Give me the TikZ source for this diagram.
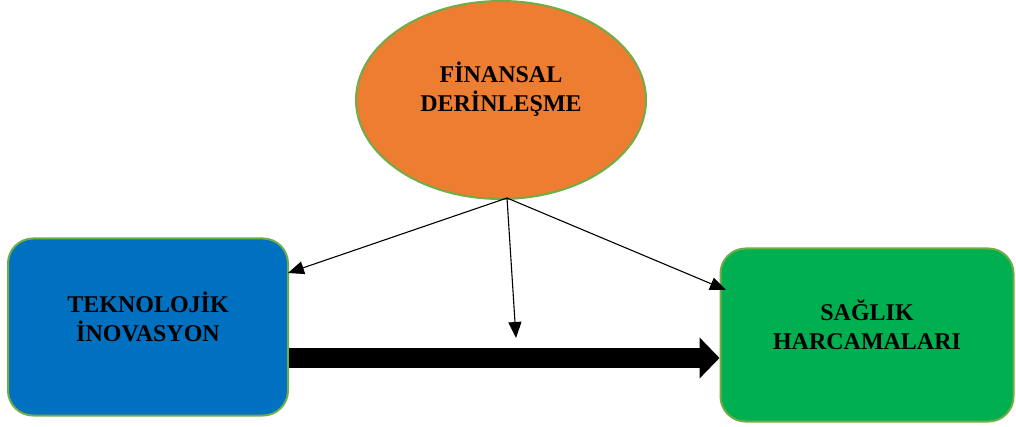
\documentclass[tikz,border=0pt]{standalone}
\usepackage{fontspec}
\setmainfont{Liberation Serif}
\usetikzlibrary{shapes.geometric, arrows.meta, positioning}
\definecolor{finorange}{HTML}{ED7D31}
\definecolor{tekblue}{HTML}{0070C0}
\definecolor{saggreen}{HTML}{00B050}
\definecolor{edgegreen}{HTML}{70AD47}
\begin{document}
\begin{tikzpicture}[x=1pt, y=-1pt,
	box/.style = {draw=edgegreen, line width=2pt, rounded corners=25pt, inner sep=0pt},
	lbl/.style = {align=center, font=\bfseries\fontsize{24}{29}\selectfont, text=black},
	infl/.style = {-{Triangle[length=16pt,width=13pt]}, line width=1.1pt}]
				\useasboundingbox (0,0) rectangle (1016,427);
				\node[ellipse, draw=edgegreen, line width=2pt, fill=finorange, minimum width=290pt, minimum height=198pt, inner sep=0pt] (fin) at (501,100) {};
				\node[box, fill=tekblue, minimum width=280pt, minimum height=177pt] (tek) at (148,327) {};
				\node[box, fill=saggreen, minimum width=293pt, minimum height=173pt] (sag) at (867,335) {};
				\node[lbl] (fintxt) at ([yshift=11pt]fin.center) {FİNANSAL\\DERİNLEŞME};
				\node[lbl] (tektxt) at ([yshift=10pt]tek.center) {TEKNOLOJİK\\İNOVASYON};
				\node[lbl] (sagtxt) at ([yshift=10pt]sag.center) {SAĞLIK\\HARCAMALARI};
				\coordinate (src) at (507,198);
				\coordinate (tekin) at (288,273);
				\coordinate (mid) at (516,338);
				\coordinate (sagin) at (726,290);
				\draw[infl] (src) -- (tekin);
				\draw[infl] (src) -- (mid);
				\draw[infl] (src) -- (sagin);
				\draw[line width=20pt, -{Triangle[length=20pt,width=40pt]}] (tek.east |- 0,358) -- (sag.west |- 0,358);
			\end{tikzpicture}
\end{document}
